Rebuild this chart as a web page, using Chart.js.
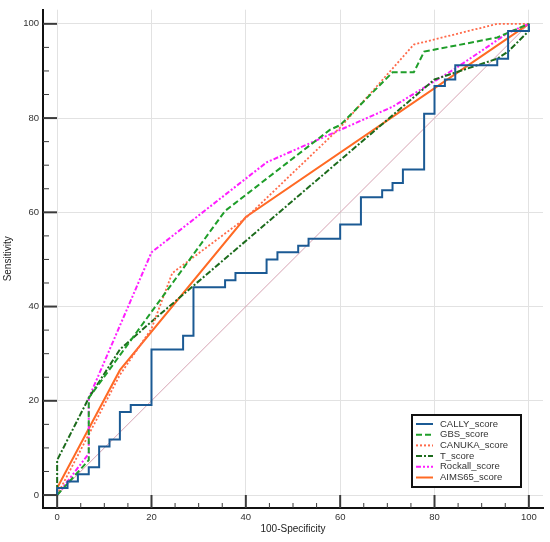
<!DOCTYPE html>
<html>
<head>
<meta charset="utf-8">
<script src="https://cdn.jsdelivr.net/npm/chart.js@4.4.1/dist/chart.umd.min.js"></script>
<style>
  html, body { margin: 0; padding: 0; background: #fff; }
  #wrap { width: 550px; height: 542px; }
</style>
</head>
<body>
<div id="wrap"><canvas id="roc" width="550" height="542"></canvas></div>
<script>
/* ROC curves, values (x = 100-Specificity, y = Sensitivity) */
var xTicks = [0, 5, 10, 15, 20, 25, 30, 35, 40, 45, 50, 55, 60, 65, 70, 75, 80, 85, 90, 95, 100];
var yTicks = [0, 5, 10, 15, 20, 25, 30, 35, 40, 45, 50, 55, 60, 65, 70, 75, 80, 85, 90, 95, 100];

var callyX = [0, 0, 2.2, 4.4, 6.7, 8.9, 11.1, 13.3, 15.6, 20, 26.7, 28.9, 35.6, 37.8, 44.4, 46.7, 51.1, 53.3, 60, 64.4, 68.9, 71.1, 73.3, 77.8, 80, 82.2, 84.4, 93.3, 95.6, 100];
var callyY = [0, 1.5, 2.9, 4.4, 5.9, 10.3, 11.8, 17.6, 19.1, 30.9, 33.8, 44.1, 45.6, 47.1, 50.0, 51.5, 52.9, 54.4, 57.4, 63.2, 64.7, 66.2, 69.1, 80.9, 86.8, 88.2, 91.2, 92.6, 98.5, 100];

var gbsX = [0, 6.7, 6.7, 35.6, 57.8, 60, 71.1, 75.6, 77.8, 93.3, 100];
var gbsY = [0, 7.4, 20.6, 60.3, 77.5, 78.5, 89.7, 89.7, 94.1, 97.1, 100];

var canukaX = [0, 13.3, 20, 24.4, 40, 60, 75.6, 93.3, 100];
var canukaY = [0, 25.5, 35.3, 47.1, 58.8, 78.0, 95.6, 100, 100];

var tX = [0, 0, 6.7, 13.3, 20, 80, 93.3, 95.6, 100, 100];
var tY = [0, 7.4, 20.6, 30.9, 36.8, 88.2, 92.6, 94.1, 98.5, 100];

var rockallX = [0, 6.7, 6.7, 20, 44.4, 71.1, 84.4, 95.6, 100];
var rockallY = [0, 8.8, 20.6, 51.5, 70.6, 82.4, 90.5, 98.1, 100];

var aimsX = [0, 0, 13.3, 40, 100];
var aimsY = [0, 1.5, 26.5, 59.0, 100];

var refX = [0, 100];
var refY = [0, 100];

function pts(xs, ys) {
  return xs.map(function (x, i) { return { x: x, y: ys[i] }; });
}

var FONT = 'Arial, "Liberation Sans", sans-serif';

/* tick marks point inward: long at multiples of 20, short otherwise */
var innerTicks = {
  id: 'innerTicks',
  afterDraw: function (chart) {
    var ctx = chart.ctx, a = chart.chartArea;
    var sx = chart.scales.x, sy = chart.scales.y;
    ctx.save();
    ctx.strokeStyle = '#3a3a3a';
    xTicks.forEach(function (v) {
      var px = sx.getPixelForValue(v), major = v % 20 === 0;
      ctx.lineWidth = major ? 2 : 1;
      ctx.beginPath();
      ctx.moveTo(px, a.bottom);
      ctx.lineTo(px, a.bottom - (major ? 13 : 5));
      ctx.stroke();
    });
    yTicks.forEach(function (v) {
      var py = sy.getPixelForValue(v), major = v % 20 === 0;
      ctx.lineWidth = major ? 2 : 1;
      ctx.beginPath();
      ctx.moveTo(a.left, py);
      ctx.lineTo(a.left + (major ? 14 : 6), py);
      ctx.stroke();
    });
    ctx.restore();
  }
};

/* boxed legend inside the bottom-right corner of the plot */
var boxLegend = {
  id: 'boxLegend',
  afterDraw: function (chart) {
    var ctx = chart.ctx, a = chart.chartArea;
    var sets = chart.data.datasets.filter(function (d) { return d.label; });
    var left = a.right - 131, top = a.bottom - 93, w = 109, h = 72;
    ctx.save();
    ctx.fillStyle = '#fff';
    ctx.fillRect(left, top, w, h);
    ctx.strokeStyle = '#111';
    ctx.lineWidth = 2;
    ctx.strokeRect(left, top, w, h);
    ctx.font = '9.5px ' + FONT;
    ctx.textBaseline = 'middle';
    ctx.textAlign = 'left';
    sets.forEach(function (d, i) {
      var y = top + 9 + i * 10.7;
      ctx.strokeStyle = d.borderColor;
      ctx.lineWidth = 2;
      ctx.setLineDash(d.borderDash || []);
      ctx.beginPath();
      ctx.moveTo(left + 4, y);
      ctx.lineTo(left + 21, y);
      ctx.stroke();
      ctx.setLineDash([]);
      ctx.fillStyle = '#333';
      ctx.fillText(d.label, left + 28, y);
    });
    ctx.restore();
  }
};

function axis(ticks, min, max, title, titlePad) {
  return {
    type: 'linear',
    min: min,
    max: max,
    afterBuildTicks: function (s) { s.ticks = ticks.map(function (v) { return { value: v }; }); },
    grid: {
      drawTicks: false,
      color: function (c) { return c.tick && c.tick.value % 20 === 0 ? '#e2e2e2' : 'rgba(0,0,0,0)'; },
      lineWidth: 1
    },
    border: { display: true, color: '#111', width: 2 },
    ticks: {
      padding: 4,
      color: '#333',
      font: { family: FONT, size: 9.5 },
      autoSkip: false,
      maxRotation: 0,
      callback: function (v) { return v % 20 === 0 ? String(v) : ''; }
    },
    title: { display: true, text: title, color: '#222', font: { family: FONT, size: 10 }, padding: titlePad }
  };
}

var xAxis = axis(xTicks, -3, 103, '100-Specificity', { top: 7, bottom: 7 });
xAxis.afterFit = function (s) { s.height = 34; };
var yAxis = axis(yTicks, -2.75, 103, 'Sensitivity', { top: 2, bottom: 2 });
yAxis.afterFit = function (s) { s.width = 43; };

new Chart(document.getElementById('roc'), {
  type: 'scatter',
  data: {
    datasets: [
      { label: 'CALLY_score', data: pts(callyX, callyY), borderColor: '#1b5a94', borderWidth: 2, stepped: 'before' },
      { label: 'GBS_score', data: pts(gbsX, gbsY), borderColor: '#1f9e2a', borderWidth: 2, borderDash: [6, 3] },
      { label: 'CANUKA_score', data: pts(canukaX, canukaY), borderColor: '#ff6a4a', borderWidth: 1.8, borderDash: [2, 2] },
      { label: 'T_score', data: pts(tX, tY), borderColor: '#1c6b1c', borderWidth: 2, borderDash: [6, 2, 2, 2] },
      { label: 'Rockall_score', data: pts(rockallX, rockallY), borderColor: '#ff1eff', borderWidth: 2, borderDash: [5, 2, 2, 2, 2, 2] },
      { label: 'AIMS65_score', data: pts(aimsX, aimsY), borderColor: '#ff6a24', borderWidth: 2 },
      { label: '', data: pts(refX, refY), borderColor: '#d6a2b2', borderWidth: 1, order: 10 }
    ]
  },
  options: {
    responsive: false,
    animation: false,
    showLine: true,
    elements: { point: { radius: 0, hoverRadius: 0 }, line: { tension: 0, fill: false } },
    layout: { padding: { top: 7, right: 7, left: 0, bottom: 0 } },
    plugins: { legend: { display: false }, tooltip: { enabled: false } },
    scales: { x: xAxis, y: yAxis }
  },
  plugins: [innerTicks, boxLegend]
});
</script>
</body>
</html>
